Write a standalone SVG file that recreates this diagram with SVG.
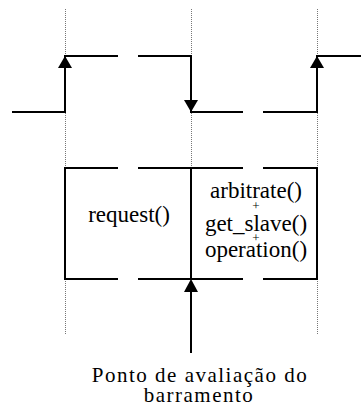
<svg xmlns="http://www.w3.org/2000/svg" width="361" height="410" viewBox="0 0 361 410">
  <style>
    .guide { stroke: #777; stroke-width: 1; stroke-dasharray: 1 1; fill: none; }
    .wave { stroke: #000; stroke-width: 2; fill: none; }
    .head { fill: #000; stroke: none; }
    text { font-family: 'Liberation Serif', 'Times New Roman', 'DejaVu Serif', serif; fill: #000; text-anchor: middle; }
    .plus { font-size: 13px; }
  </style>

  <!-- clock edge guides -->
  <g id="guides">
    <line class="guide" x1="65.5" y1="9" x2="65.5" y2="334"/>
    <line class="guide" x1="191.5" y1="9" x2="191.5" y2="334"/>
    <line class="guide" x1="317.5" y1="9" x2="317.5" y2="334"/>
  </g>

  <!-- signal waveform -->
  <g id="waveform">
    <polyline class="wave" points="12,112 65,112 65,56 118,56"/>
    <polyline class="wave" points="138,56 191,56 191,112 243,112"/>
    <polyline class="wave" points="263,112 317,112 317,56 361,56"/>
    <polygon class="head" points="65,56 58,68 72,68"/>
    <polygon class="head" points="191,112 184,100 198,100"/>
    <polygon class="head" points="317,56 310,68 324,68"/>
  </g>

  <!-- request phase -->
  <g id="request">
    <polyline class="wave" points="118,168 65,168 65,279 118,279"/>
    <line class="wave" x1="138" y1="168" x2="191" y2="168"/>
    <line class="wave" x1="138" y1="279" x2="191" y2="279"/>
    <text x="129" y="222" font-size="23">request()</text>
  </g>

  <!-- arbitration / operation phase -->
  <g id="operation">
    <line class="wave" x1="191" y1="168" x2="243" y2="168"/>
    <line class="wave" x1="191" y1="279" x2="243" y2="279"/>
    <polyline class="wave" points="263,168 317,168 317,279 263,279"/>
    <line class="wave" x1="191" y1="168" x2="191" y2="279"/>
    <text x="256" y="198" font-size="23">arbitrate()</text>
    <text class="plus" x="256" y="210">+</text>
    <text x="256" y="231" font-size="23">get_slave()</text>
    <text class="plus" x="256" y="242">+</text>
    <text x="256" y="257" font-size="23">operation()</text>
  </g>

  <!-- evaluation point marker -->
  <g id="connectors">
    <line class="wave" x1="191" y1="290" x2="191" y2="353"/>
    <polygon class="head" points="191,279 184,292 198,292"/>
  </g>

  <g id="caption">
    <text x="200" y="382" font-size="21" letter-spacing="1.5">Ponto de avaliação do</text>
    <text x="199" y="402" font-size="21" letter-spacing="1.5">barramento</text>
  </g>
</svg>
